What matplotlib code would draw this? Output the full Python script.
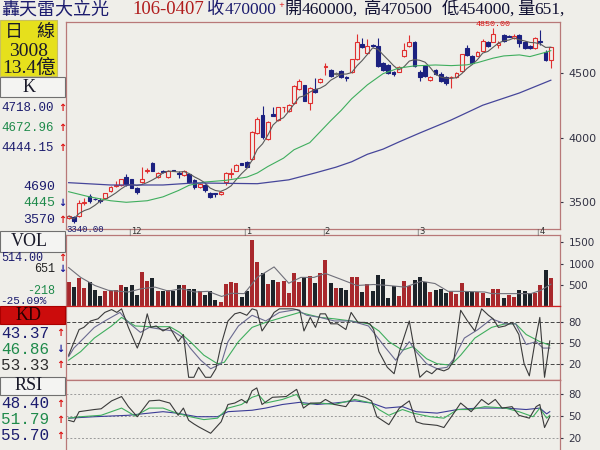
import matplotlib
matplotlib.use("Agg")
import matplotlib.pyplot as plt  # noqa: E402
import matplotlib.patches as patches  # noqa: E402
import pandas as pd  # noqa: E402

W, H = 600, 450
BG = "#efeee9"
BORDER = "#b87878"
NAVY = "#1c1c6e"
GREEN = "#1e8a4a"
RED = "#dd1111"
UP = "#e03030"
DOWN = "#1c2180"
CJK = ["Liberation Serif", "Noto Sans CJK TC"]
MONO = ["Liberation Mono", "DejaVu Sans Mono"]
NARROW = ["Liberation Sans Narrow", "DejaVu Sans"]

# ---- daily candles (bar index 0..92) ----
opens = [3380, 3385, 3390, 3495, 3547, 3525, 3515, 3530, 3588, 3623,
         3632, 3696, 3676, 3611, 3657, 3740, 3805, 3696, 3740, 3691,
         3748, 3722, 3708, 3715, 3670, 3620, 3630, 3572, 3568, 3560,
         3653, 3718, 3743, 3800, 3813, 3831, 4038, 4174, 3986, 4180,
         4136, 4234, 4208, 4265, 4374, 4407, 4270, 4376, 4430, 4545,
         4523, 4495, 4515, 4465, 4505, 4606, 4725, 4653, 4718, 4709,
         4578, 4565, 4510, 4510, 4632, 4712, 4743, 4510, 4557, 4446,
         4523, 4492, 4471, 4465, 4467, 4518, 4696, 4632, 4634, 4673,
         4743, 4743, 4717, 4795, 4788, 4770, 4795, 4743, 4709, 4691,
         4745, 4665, 4600]
closes = [3390, 3350, 3495, 3500, 3505, 3520, 3510, 3567, 3619, 3635,
          3676, 3640, 3611, 3575, 3676, 3752, 3743, 3727, 3732, 3743,
          3742, 3718, 3744, 3657, 3614, 3640, 3590, 3541, 3562, 3580,
          3722, 3722, 3787, 3790, 3774, 4045, 4145, 4002, 4123, 4170,
          4234, 4238, 4252, 4399, 4440, 4285, 4381, 4350, 4455, 4552,
          4480, 4497, 4470, 4460, 4608, 4740, 4702, 4709, 4712, 4556,
          4525, 4497, 4493, 4549, 4678, 4743, 4554, 4467, 4477, 4467,
          4492, 4438, 4425, 4468, 4497, 4645, 4640, 4575, 4660, 4751,
          4709, 4802, 4735, 4748, 4782, 4790, 4730, 4691, 4691, 4769,
          4740, 4600, 4700]
highs = [3400, 3390, 3515, 3530, 3560, 3530, 3535, 3572, 3625, 3660,
         3680, 3715, 3680, 3615, 3774, 3760, 3810, 3735, 3745, 3750,
         3752, 3740, 3750, 3720, 3675, 3648, 3640, 3580, 3570, 3585,
         3730, 3760, 3792, 3805, 3820, 4050, 4160, 4244, 4130, 4240,
         4240, 4240, 4260, 4405, 4450, 4410, 4390, 4459, 4460, 4575,
         4530, 4510, 4520, 4475, 4612, 4805, 4770, 4760, 4722, 4770,
         4585, 4570, 4515, 4555, 4730, 4795, 4750, 4520, 4565, 4475,
         4530, 4510, 4480, 4480, 4505, 4650, 4720, 4640, 4670, 4760,
         4750, 4850, 4745, 4800, 4795, 4800, 4805, 4748, 4715, 4775,
         4835, 4675, 4705]
lows = [3370, 3340, 3385, 3480, 3495, 3515, 3490, 3525, 3580, 3618,
        3628, 3625, 3605, 3565, 3650, 3725, 3740, 3690, 3725, 3688,
        3738, 3690, 3700, 3650, 3600, 3612, 3580, 3535, 3540, 3555,
        3630, 3690, 3738, 3785, 3770, 3825, 4030, 3990, 3980, 4165,
        4130, 4200, 4200, 4260, 4370, 4280, 4213, 4345, 4425, 4484,
        4470, 4485, 4460, 4440, 4500, 4600, 4695, 4648, 4700, 4550,
        4515, 4490, 4480, 4505, 4625, 4705, 4545, 4440, 4470, 4440,
        4485, 4430, 4410, 4381, 4460, 4510, 4635, 4570, 4628, 4668,
        4700, 4738, 4695, 4740, 4775, 4765, 4700, 4685, 4685, 4685,
        4715, 4595, 4540]

volumes = [561, 445, 661, 415, 561, 384, 246, 346, 346, 369,
           484, 445, 507, 261, 791, 599, 661, 361, 346, 376,
           361, 507, 507, 399, 399, 361, 261, 346, 138, 92,
           522, 561, 538, 215, 346, 1559, 1037, 775, 522, 614,
           568, 599, 315, 775, 568, 691, 706, 545, 775, 1091,
           545, 415, 415, 384, 691, 676, 338, 522, 353, 723,
           645, 184, 461, 238, 599, 461, 622, 691, 561, 323,
           369, 392, 315, 346, 276, 538, 330, 330, 330, 307,
           177, 407, 407, 177, 269, 215, 369, 353, 307, 307,
           484, 845, 651]
vol_up = [1, 0, 1, 1, 0, 0, 0, 1, 1, 1,
          1, 0, 0, 0, 1, 1, 0, 1, 0, 1,
          0, 0, 1, 0, 0, 1, 0, 0, 0, 1,
          1, 1, 1, 0, 0, 1, 1, 0, 1, 0,
          1, 1, 1, 1, 1, 0, 1, 0, 1, 1,
          0, 1, 0, 0, 1, 1, 0, 1, 0, 0,
          0, 0, 0, 1, 1, 1, 0, 0, 0, 1,
          0, 0, 0, 1, 1, 1, 0, 0, 1, 1,
          0, 1, 1, 0, 1, 1, 0, 0, 0, 1,
          1, 0, 1]

month_start = [12, 34, 49, 67, 90]
month_labels = ["12", "1", "2", "3", "4"]

# moving averages (bar index, value)
ma20_x = [0, 4, 8, 11, 15, 18, 21, 23, 26, 30, 34, 36, 38, 41, 43, 46, 48, 50, 52, 54,
          57, 60, 63, 66, 70, 73, 76, 78, 81, 83, 86, 88, 91, 92]
ma20_y = [3580, 3540, 3510, 3498, 3510, 3540, 3590, 3630, 3655, 3668, 3693, 3725, 3775,
          3840, 3905, 3960, 4045, 4130, 4210, 4300, 4408, 4495, 4538, 4555, 4562, 4557,
          4563, 4580, 4615, 4632, 4640, 4627, 4660, 4673]
ma60_x = [0, 8, 18, 24, 30, 36, 42, 47, 51, 54, 57, 60, 63, 67, 73, 79, 86, 92]
ma60_y = [3650, 3632, 3632, 3648, 3645, 3642, 3672, 3725, 3770, 3812, 3870, 3910, 3965,
          4035, 4136, 4250, 4345, 4444]
volma_x = [0, 2.3, 5, 7.6, 11.4, 13.9, 16.5, 19, 21.6, 24.1, 26.6, 29.2, 31, 33.5, 36,
           39.2, 42, 44.3, 46.8, 49, 51.8, 55, 58.2, 61, 64.2, 67.3, 69.9, 72.4, 75,
           79.4, 80.7, 83.8, 88.2, 90.1, 92]
volma_y = [906, 675, 484, 369, 330, 408, 445, 353, 408, 330, 346, 225, 300, 292, 675,
           922, 537, 675, 675, 768, 637, 484, 507, 484, 445, 584, 530, 346, 346, 330,
           292, 292, 292, 369, 514]

# KD
kdf_x = [0, 2, 2.9, 4.2, 5.6, 6.9, 8.2, 9.2, 10.1, 11.4, 13.1, 14.1, 15, 15.7, 16.7, 18,
         19.3, 20.9, 21.9, 22.9, 23.9, 24.8, 26.1, 27.1, 28.1, 29.1, 30.4, 31.7, 32.7, 34,
         35, 35.9, 36.9, 38.2, 39.2, 40.2, 42.8, 44.1, 44.9, 46.1, 47.1, 48, 49, 50, 51.3,
         52.9, 53.9, 55.2, 56.5, 57.5, 58.2, 59.2, 60.8, 62.1, 63.1, 65, 65.7, 67, 68.3,
         69.3, 70.3, 71.6, 72.5, 73.5, 74.8, 76.1, 77.5, 78.8, 80.1, 81, 82, 83.3, 84.6,
         85.9, 86.9, 87.9, 88.9, 89.9, 90.8, 91.8]
kdf_y = [33, 69, 72, 81, 84, 93, 97, 93, 98, 72, 43, 62, 91, 72, 74, 67, 72, 52, 62, 2,
         2, 16, 2, 2, 14, 48, 81, 91, 93, 89, 98, 96, 67, 81, 93, 98, 98, 96, 67, 86,
         72, 91, 91, 77, 77, 69, 93, 79, 79, 77, 69, 38, 16, 7, 38, 81, 52, 2, 11, 7,
         14, 11, 14, 26, 96, 81, 67, 98, 89, 84, 72, 74, 79, 62, 21, 4, 48, 86, 2, 53]
kdk_x = [0, 1, 2.9, 4.9, 6.9, 9.8, 11.4, 13.7, 15.4, 18, 19.9, 21.9, 23.2, 25.2, 27.1,
         29.1, 30.4, 32.4, 35, 37.6, 40.2, 43.5, 45.4, 48, 50.7, 53.9, 57.2, 58.5, 60.5,
         62.4, 65, 66.3, 68.3, 70.3, 72.2, 73.5, 75.5, 78.1, 80.7, 83.3, 85.3, 87.3, 89.2,
         90.5, 91.8]
kdk_y = [31, 43, 57, 72, 81, 93, 79, 65, 72, 69, 67, 57, 43, 26, 14, 21, 52, 74, 89, 81,
         93, 97, 89, 86, 81, 81, 74, 62, 43, 26, 52, 38, 21, 14, 16, 28, 57, 69, 84, 77,
         77, 48, 52, 43, 43]
kdd_x = [0, 2.3, 4.9, 8.2, 10.1, 12.7, 15.4, 19.3, 21.2, 23.2, 25.8, 28.4, 29.7, 32.4,
         35, 37.6, 40.8, 44.1, 48, 50.7, 53.9, 57.2, 59.2, 61.1, 63.7, 65.7, 68.3, 70.3,
         72.9, 74.8, 77.5, 80.7, 83.3, 85.3, 87.3, 89.9, 91.8]
kdd_y = [26, 38, 57, 74, 86, 74, 73, 73, 65, 52, 33, 21, 23, 52, 72, 79, 86, 93, 86, 84,
         81, 77, 67, 52, 40, 45, 28, 21, 19, 33, 57, 72, 77, 77, 62, 52, 47]

# RSI
rsf_x = [0, 1, 2, 4.9, 6.2, 8.2, 10.1, 11.4, 13.1, 15.4, 17.3, 19.3, 20.9, 21.9, 22.9,
         23.9, 24.8, 27.1, 29.1, 30.4, 31.7, 33, 34, 35, 35.9, 36.9, 38.9, 41.5, 43.5,
         44.8, 46.1, 48, 49, 50.7, 52.9, 54.6, 56.5, 57.8, 58.8, 61.1, 63.1, 65, 66.3,
         67.6, 69, 70.3, 71.6, 73.5, 74.8, 76.8, 78.8, 80.1, 81.4, 82.7, 84.6, 85.9,
         87.9, 89.2, 89.9, 90.8, 91.8]
rsf_y = [44, 42, 56, 59, 60, 71, 77, 63, 49, 71, 72, 68, 51, 61, 44, 39, 35, 26, 42, 66,
         68, 73, 68, 85, 89, 66, 76, 77, 87, 61, 68, 68, 73, 66, 63, 80, 76, 71, 49, 38,
         61, 71, 42, 39, 38, 37, 34, 54, 68, 56, 73, 66, 73, 61, 63, 51, 47, 63, 66, 34,
         49]
rsm_x = [0, 2.3, 6.2, 10.1, 12.7, 15.4, 18, 20.6, 23.2, 25.8, 28.4, 30.4, 33, 35, 36.3,
         37.6, 40.8, 43.5, 44.8, 48, 50.7, 54.6, 57.8, 59.2, 61.1, 63.7, 65.7, 69, 71.6,
         74.2, 76.8, 79.4, 83.3, 85.9, 88.6, 89.9, 91.2, 91.8]
rsm_y = [47, 49, 51, 61, 50, 61, 61, 54, 49, 45, 47, 61, 66, 76, 79, 68, 73, 80, 66, 68,
         66, 73, 68, 59, 51, 59, 54, 49, 47, 59, 59, 63, 61, 56, 49, 61, 47, 51]
rss_x = [0, 4.9, 11.4, 18, 20.6, 24.5, 28.4, 30.4, 35, 37.6, 40.8, 44.1, 47.4, 50.7,
         54.6, 57.8, 60.5, 63.7, 66.3, 70.3, 74.2, 78.1, 83.3, 87.3, 89.9, 91.2, 91.8]
rss_y = [47, 49, 51, 56, 54, 49, 49, 56, 58, 61, 66, 69, 66, 68, 71, 68, 61, 63, 56, 54,
         59, 61, 61, 59, 61, 53, 56]

fig = plt.figure(figsize=(W / 100, H / 100), dpi=100, facecolor=BG)


def axes_px(l, t, r, b):
    ax = fig.add_axes([l / W, 1 - b / H, (r - l) / W, (b - t) / H])
    ax.set_facecolor(BG)
    ax.set_xlim(-0.5, 93.75)
    ax.set_xticks([])
    for s in ax.spines.values():
        s.set_color(BORDER)
        s.set_linewidth(0.9)
    ax.yaxis.tick_right()
    ax.tick_params(axis="y", length=2, pad=4, labelsize=7, colors="#333344",
                   labelcolor="#333344")
    return ax


def ftext(x, y, s, **kw):
    kw.setdefault("va", "center")
    fig.text(x / W, 1 - y / H, s, **kw)


def box(l, t, r, b, face, edge="#707070"):
    fig.patches.append(patches.Rectangle((l / W, 1 - b / H), (r - l) / W, (b - t) / H,
                                         transform=fig.transFigure, facecolor=face,
                                         edgecolor=edge, linewidth=0.8))


idx = list(range(len(closes)))

# ---- price panel ----
ax = axes_px(66, 22, 560, 229)
ax.set_ylim(3291, 4895)
ax.set_yticks([3500, 4000, 4500])
for tl in ax.get_yticklabels():
    tl.set_fontfamily(NARROW)
    tl.set_fontsize(8)

up = [c > o + 2 for o, c in zip(opens, closes)]
dn = [c < o - 2 for o, c in zip(opens, closes)]
wick_c = [UP if u else (DOWN if d else "#707070") for u, d in zip(up, dn)]
ax.vlines(idx, lows, highs, colors=wick_c, linewidth=0.8, zorder=2)
body_b = [min(o, c) for o, c in zip(opens, closes)]
body_h = [max(abs(c - o), 3) for o, c in zip(opens, closes)]
face = [BG if u else (DOWN if d else "#707070") for u, d in zip(up, dn)]
ax.bar(idx, body_h, bottom=body_b, width=0.72, color=face, edgecolor=wick_c,
       linewidth=0.8, zorder=3)

ma5 = pd.Series(closes).rolling(5, min_periods=1).mean()
ax.plot(idx, ma5, color="#5a5a5a", linewidth=0.8, zorder=4)
ax.plot(ma20_x, ma20_y, color="#3fae5e", linewidth=0.8, zorder=4)
ax.plot(ma60_x, ma60_y, color="#46469a", linewidth=0.9, zorder=4)

hi_i = highs.index(max(highs))
ax.text(hi_i, max(highs) + 22, f"{max(highs):.2f}", color=RED, fontsize=6,
        ha="center", va="center", family=MONO)
ax.text(-0.4, min(lows) - 15, f"{min(lows):.2f}", color=NAVY, fontsize=6.5,
        ha="left", va="top", family=MONO)

# month markers under the price panel
for m, lab in zip(month_start, month_labels):
    x = 66 + m * (494 / 94.25)
    ftext(x, 232, "|", fontsize=5, color="#555555", ha="center")
    ftext(x + 2, 232, lab, fontsize=6, color="#333333", ha="left", family=NARROW)

# ---- volume panel ----
axv = axes_px(66, 235, 560, 306)
axv.set_ylim(0, 1675)
axv.set_yticks([500, 1000, 1500])
vcol = ["#a8282c" if u else "#1c2329" for u in vol_up]
axv.bar(idx, volumes, width=0.76, color=vcol, zorder=2)
axv.plot(volma_x, volma_y, color="#70707a", linewidth=0.8, zorder=3)

# ---- KD panel ----
axk = axes_px(66, 306, 560, 380)
axk.set_ylim(-1.8, 102)
axk.set_yticks([20, 50, 80])
axk.spines["top"].set_color("#cc2222")
axk.spines["bottom"].set_color("#cc2222")
for v in (20, 50, 80):
    axk.axhline(v, color="#444444", linestyle=(0, (4, 2)), linewidth=0.7, zorder=1)
axk.plot(kdd_x, kdd_y, color="#3fae5e", linewidth=0.8, zorder=2)
axk.plot(kdk_x, kdk_y, color="#6a6a90", linewidth=0.8, zorder=3)
axk.plot(kdf_x, kdf_y, color="#3a3a3a", linewidth=0.8, zorder=4)

# ---- RSI panel ----
axr = axes_px(66, 380, 560, 451)
axr.set_ylim(1.4, 100)
axr.set_yticks([20, 50, 80])
for v in (20, 50, 80):
    axr.axhline(v, color="#9a9a9a", linestyle=(0, (2, 2)), linewidth=0.7, zorder=1)
axr.plot(rss_x, rss_y, color="#3c3c96", linewidth=0.8, zorder=2)
axr.plot(rsm_x, rsm_y, color="#3fae5e", linewidth=0.8, zorder=3)
axr.plot(rsf_x, rsf_y, color="#3a3a3a", linewidth=0.8, zorder=4)

for a in (axv, axk, axr):
    for tl in a.get_yticklabels():
        tl.set_fontfamily(NARROW)
        tl.set_fontsize(7.5)

# ---- header ----
hy = 10
ftext(1, hy, "轟天雷大立光", color=NAVY, fontsize=13, family=CJK)
ftext(132, hy, "106-0407", color="#b01c1c", fontsize=13.5, family=CJK)
ftext(207, hy, "收", color=NAVY, fontsize=12.5, family=CJK)
ftext(225, hy, "470000", color=NAVY, fontsize=12.5, family=CJK)
ftext(278, 5, "+", color=RED, fontsize=5)
ftext(285, hy, "開", color="#111133", fontsize=12.5, family=CJK)
ftext(302, hy, "460000,", color="#111133", fontsize=12.5, family=CJK)
ftext(364, hy, "高", color="#111133", fontsize=12.5, family=CJK)
ftext(381, hy, "470500", color="#111133", fontsize=12.5, family=CJK)
ftext(442, hy, "低", color="#111133", fontsize=12.5, family=CJK)
ftext(459, hy, "454000,", color="#111133", fontsize=12.5, family=CJK)
ftext(517, hy, "量", color="#111133", fontsize=12.5, family=CJK)
ftext(534, hy, "651,", color="#111133", fontsize=12.5, family=CJK)

# ---- left side panel ----
box(0, 20, 57, 76, "#e6e01c", edge="#c8c060")
ftext(14, 33, "日", fontsize=13, color="#1a1a2a", ha="center", family=CJK)
ftext(45, 33, "線", fontsize=13, color="#1a1a2a", ha="center", family=CJK)
ftext(29, 52, "3008", fontsize=14, color="#1a1a2a", ha="center", family=CJK)
ftext(29, 68, "13.4億", fontsize=14, color="#1a1a2a", ha="center", family=CJK)

box(0, 77, 65, 97, "#f4f4f2")
ftext(29, 87, "K", fontsize=13, color="#1a1a2a", ha="center", family=CJK)
ftext(1, 108, "4718.00", fontsize=9, color=NAVY, family=MONO)
ftext(1, 128, "4672.96", fontsize=9, color=GREEN, family=MONO)
ftext(1, 148, "4444.15", fontsize=9, color=NAVY, family=MONO)
ftext(55, 187, "4690", fontsize=9.5, color=NAVY, ha="right", family=MONO)
ftext(55, 203, "4445", fontsize=9.5, color=GREEN, ha="right", family=MONO)
ftext(55, 220, "3570", fontsize=9.5, color=NAVY, ha="right", family=MONO)
for y, arr, col in [(108, "↑", RED), (128, "↑", RED), (148, "↑", RED),
                    (203, "↓", "#1a1a9a"), (220, "↑", RED)]:
    ftext(62, y, arr, fontsize=7, color=col, ha="center", fontweight="bold")

box(0, 231, 65, 252, "#f4f4f2")
ftext(29, 242, "VOL", fontsize=13, color="#1a1a2a", ha="center", family=CJK)
ftext(1, 258, "514.00", fontsize=8.5, color=NAVY, family=MONO)
ftext(55, 269, "651", fontsize=8.5, color="#222222", ha="right", family=MONO)
ftext(55, 291, "-218", fontsize=8.5, color=GREEN, ha="right", family=MONO)
ftext(0, 301, "-25.09%", fontsize=8, color=NAVY, family=MONO)
ftext(62, 258, "↑", fontsize=7, color=RED, ha="center", fontweight="bold")
ftext(62, 269, "↓", fontsize=7, color="#1a1a9a", ha="center", fontweight="bold")

box(0, 306, 65, 324, "#cc0c0c", edge="#aa0000")
ftext(29, 315, "KD", fontsize=13, color="#2a0000", ha="center", family=CJK)
ftext(1, 333, "43.37", fontsize=11.5, color=NAVY, family=MONO)
ftext(1, 349, "46.86", fontsize=11.5, color=GREEN, family=MONO)
ftext(1, 365, "53.33", fontsize=11.5, color="#2e2e2e", family=MONO)
for y, arr, col in [(333, "↑", RED), (349, "↓", "#1a1a9a"), (365, "↑", RED)]:
    ftext(60, y, arr, fontsize=7, color=col, ha="center", fontweight="bold")

box(0, 377, 65, 395, "#f4f4f2")
ftext(29, 386, "RSI", fontsize=13, color="#1a1a2a", ha="center", family=CJK)
ftext(1, 404, "48.40", fontsize=11.5, color=NAVY, family=MONO)
ftext(1, 420, "51.79", fontsize=11.5, color=GREEN, family=MONO)
ftext(1, 436, "55.70", fontsize=11.5, color=NAVY, family=MONO)
for y in (404, 420, 436):
    ftext(60, y, "↑", fontsize=7, color=RED, ha="center", fontweight="bold")

fig.savefig("out.png", dpi=100, facecolor=BG)
